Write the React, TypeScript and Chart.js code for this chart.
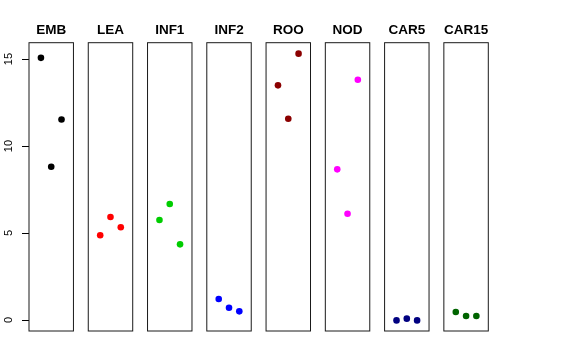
import React, { useEffect, useRef } from "react";
import { Chart, registerables } from "chart.js";

Chart.register(...registerables);

const categories = ["EMB", "LEA", "INF1", "INF2", "ROO", "NOD", "CAR5", "CAR15"];
const colors = ["#000000", "#FF0000", "#00CD00", "#0000FF", "#8B0000", "#FF00FF", "#000080", "#006400"];
const embValues = [15.07, 8.81, 11.53];
const leaValues = [4.87, 5.92, 5.33];
const inf1Values = [5.75, 6.67, 4.35];
const inf2Values = [1.21, 0.71, 0.5];
const rooValues = [13.49, 11.57, 15.31];
const nodValues = [8.66, 6.11, 13.81];
const car5Values = [-0.02, 0.08, -0.02];
const car15Values = [0.46, 0.23, 0.23];
const seriesValues = [embValues, leaValues, inf1Values, inf2Values, rooValues, nodValues, car5Values, car15Values];
const yTicks = [0, 5, 10, 15];

// layout: each panel spans [-0.16, 4.16] in its own units, panels spaced by PITCH units
const PITCH = 5.76;
const PANEL_MIN = -0.16;
const PANEL_MAX = 4.16;

const panelPlugin = {
  id: "panels",
  afterDatasetsDraw(chart: any) {
    const { ctx, chartArea, scales } = chart;
    const xs = scales.x;
    ctx.save();
    ctx.strokeStyle = "#1a1a1a";
    ctx.lineWidth = 1;
    ctx.fillStyle = "#000";
    ctx.font = "bold 13.5px 'Liberation Sans', Arial, sans-serif";
    ctx.textAlign = "center";
    ctx.textBaseline = "alphabetic";
    categories.forEach((name, p) => {
      const l = xs.getPixelForValue(p * PITCH + PANEL_MIN);
      const r = xs.getPixelForValue(p * PITCH + PANEL_MAX);
      ctx.strokeRect(l, chartArea.top, r - l, chartArea.bottom - chartArea.top);
      const c = xs.getPixelForValue(p * PITCH + 2);
      ctx.fillText(name, c, 34.3);
    });
    ctx.restore();
  },
};

export default function App() {
  const ref = useRef<HTMLCanvasElement | null>(null);
  useEffect(() => {
    if (!ref.current) return;
    const datasets = categories.map((name, p) => ({
      label: name,
      data: seriesValues[p].map((v, i) => ({ x: p * PITCH + i + 1, y: v })),
      backgroundColor: colors[p],
      borderColor: colors[p],
      borderWidth: 0,
      pointRadius: 3.3,
      pointHoverRadius: 3.3,
      showLine: false,
    }));
    const chart = new Chart(ref.current, {
      type: "scatter",
      data: { datasets },
      plugins: [panelPlugin],
      options: {
        animation: false,
        responsive: false,
        devicePixelRatio: 1,
        layout: { padding: { top: 42.7, right: 87.7, bottom: 29, left: 0 } },
        plugins: { legend: { display: false }, tooltip: { enabled: false }, title: { display: false } },
        scales: {
          x: {
            type: "linear",
            display: false,
            min: PANEL_MIN,
            max: (categories.length - 1) * PITCH + PANEL_MAX,
          },
          y: {
            type: "linear",
            min: -0.63,
            max: 15.94,
            afterBuildTicks: (scale: any) => {
              scale.ticks = yTicks.map((v) => ({ value: v }));
            },
            afterFit: (scale: any) => {
              scale.width = 29;
            },
            border: { display: false },
            grid: {
              display: true,
              drawOnChartArea: false,
              drawTicks: true,
              tickLength: 7,
              color: "#000",
              lineWidth: 1,
            },
            ticks: {
              minRotation: 90,
              maxRotation: 90,
              crossAlign: "center",
              padding: 7,
              color: "#000",
              font: { family: "'Liberation Sans', Arial, sans-serif", size: 11 },
              callback: (v: any) => String(v),
            },
          },
        },
      },
    });
    return () => chart.destroy();
  }, []);
  return (
    <div style={{ position: "absolute", left: 0, top: 0, width: 576, height: 360, background: "#fff" }}>
      <canvas ref={ref} width={576} height={360} />
    </div>
  );
}
